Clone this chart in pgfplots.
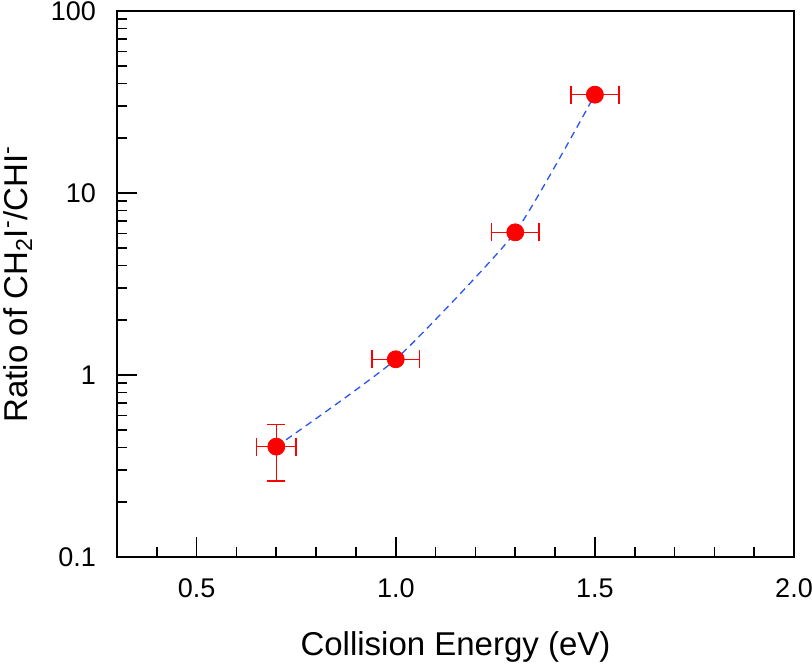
\documentclass[border=0pt]{standalone}
\usepackage{fontspec}
\setmainfont{Liberation Sans}
\usepackage{pgfplots}
\pgfplotsset{compat=1.18}
\definecolor{mred}{RGB}{255,0,0}
\definecolor{mblue}{RGB}{40,85,240}
\newcommand{\tl}[1]{{\fontsize{13.5}{16}\selectfont #1}}
\begin{document}
\begin{tikzpicture}
\begin{axis}[
  name=ax,
  scale only axis,
  width=338.5pt, height=273pt,
  xmin=0.3, xmax=2.0,
  ymode=log, ymin=0.1, ymax=100,
  axis line style={line width=0.85pt},
  major tick style={black, line width=0.85pt},
  minor tick style={black, line width=0.85pt},
  tick align=inside,
  xtick pos=lower, ytick pos=left,
  xtick={0.5,1.0,1.5,2.0},
  minor xtick={0.4,0.6,0.7,0.8,0.9,1.1,1.2,1.3,1.4,1.6,1.7,1.8,1.9},
  xticklabels={\tl{0.5},\tl{1.0},\tl{1.5},\tl{2.0}},
  ytick={0.1,1,10,100},
  yticklabels={\tl{0.1},\tl{1},\tl{10},\tl{100}},
  major tick length=10pt,
  minor tick length=5pt,
  every x tick label/.append style={yshift=-7.5pt},
  every y tick label/.append style={xshift=-7pt},
  xlabel={Collision Energy (eV)},
  ylabel={Ratio of CH\textsubscript{2}I\textsuperscript{-}/CHI\textsuperscript{-}},
  label style={font=\fontsize{16.5}{19}\selectfont},
  xlabel style={at={(axis description cs:0.5,-0.1813)}, anchor=base},
  ylabel style={at={(axis description cs:-0.1329,0.5)}, anchor=base},
  clip=false,
]
\addplot[mblue, line width=0.65pt, dash pattern=on 3.5pt off 2.5pt, smooth, tension=0.3] coordinates {
  (0.7,0.404) (1.0,1.22) (1.3,6.08) (1.5,34.7)
};
\addplot[only marks, mark=*, mark size=4.25pt, color=mred,
  mark options={fill=mred, draw=mred},
  error bars/.cd,
    x dir=both, x explicit,
    error bar style={line width=0.75pt, mred},
    error mark options={mred, line width=0.75pt, mark size=4.5pt, rotate=90},
] coordinates {
  (0.7,0.404) +- (0.05,0) 
  (1.0,1.22) +- (0.06,0)
  (1.3,6.08) +- (0.06,0)
  (1.5,34.7) +- (0.06,0)
};
\addplot[draw=none, mark=none, forget plot,
  error bars/.cd,
    y dir=both, y explicit,
    error bar style={line width=0.75pt, mred},
    error mark options={mred, line width=0.75pt, mark size=4.5pt, rotate=90},
] coordinates {
  (0.7,0.404) += (0,0.132) -= (0,0.142)
};
\end{axis}
\pgfresetboundingbox
\path ([shift={(-58.5pt,-53pt)}]ax.south west) rectangle ([shift={(9pt,5.5pt)}]ax.north east);
\end{tikzpicture}
\end{document}
